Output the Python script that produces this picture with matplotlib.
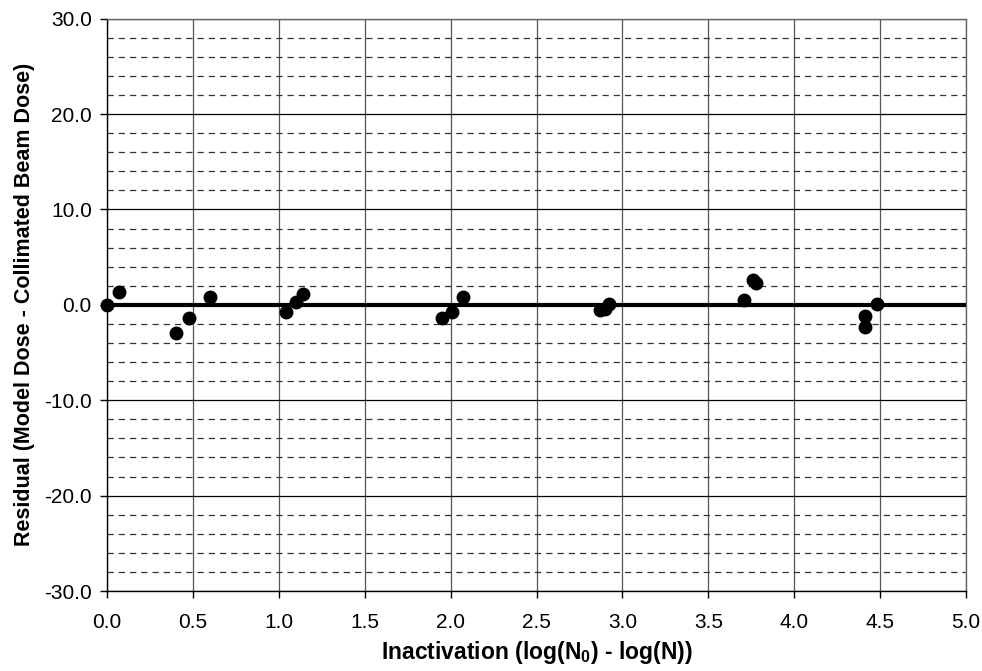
import matplotlib
matplotlib.use("Agg")
import matplotlib.pyplot as plt
import numpy as np
from matplotlib.ticker import MultipleLocator, FormatStrFormatter

inactivation = [0.00, 0.07, 0.40, 0.48, 0.60, 1.04, 1.10, 1.14,
                1.95, 2.01, 2.07, 2.87, 2.90, 2.92, 3.71, 3.76, 3.78,
                4.41, 4.41, 4.48]
residual = [0.0, 1.3, -3.0, -1.4, 0.8, -0.7, 0.3, 1.1,
            -1.4, -0.7, 0.8, -0.5, -0.4, 0.1, 0.5, 2.6, 2.3,
            -1.2, -2.3, 0.1]

plt.rcParams['font.family'] = ['Liberation Sans', 'DejaVu Sans']
plt.rcParams['mathtext.fontset'] = 'custom'
plt.rcParams['mathtext.rm'] = 'Liberation Sans'
plt.rcParams['mathtext.bf'] = 'Liberation Sans:bold'

fig = plt.figure(figsize=(9.82, 6.71), dpi=100)
ax = fig.add_axes([0.109, 0.1192, 0.8747, 0.8529])

ax.set_xlim(0, 5)
ax.set_ylim(-30, 30)
ax.xaxis.set_major_locator(MultipleLocator(0.5))
ax.yaxis.set_major_locator(MultipleLocator(10))
ax.yaxis.set_minor_locator(MultipleLocator(2))
ax.xaxis.set_major_formatter(FormatStrFormatter('%.1f'))
ax.yaxis.set_major_formatter(FormatStrFormatter('%.1f'))

ax.grid(True, which='major', axis='x', color='#555555', lw=0.9)
ax.grid(True, which='major', axis='y', color='black', lw=0.9)
ax.grid(True, which='minor', axis='y', color='#333333', lw=0.9, dashes=(5, 4))
ax.tick_params(which='minor', length=0)
ax.tick_params(which='major', direction='out', length=5, width=1, labelsize=15, color='black')
ax.tick_params(axis='x', which='major', pad=11)
ax.tick_params(axis='y', which='major', pad=6)
ax.set_axisbelow(True)

ax.axhline(0, color='black', lw=3, zorder=2)
ax.plot(inactivation, residual, 'o', color='black', markersize=9, zorder=3, clip_on=False)

for s in ax.spines.values():
    s.set_color('#666666')
    s.set_linewidth(1)
ax.spines['left'].set_color('black')
ax.spines['bottom'].set_color('black')

xl = ax.set_xlabel(r'Inactivation (log(N$_\mathbf{0}$) - log(N))', fontsize=16.5, fontweight='bold')
yl = ax.set_ylabel('Residual (Model Dose - Collimated Beam Dose)', fontsize=15.5, fontweight='bold')
ax.xaxis.set_label_coords(0.5, -0.108)
xl.set_va('center')
ax.yaxis.set_label_coords(-0.096, 0.5)
yl.set_va('center')

fig.savefig('out.png', dpi=100)
